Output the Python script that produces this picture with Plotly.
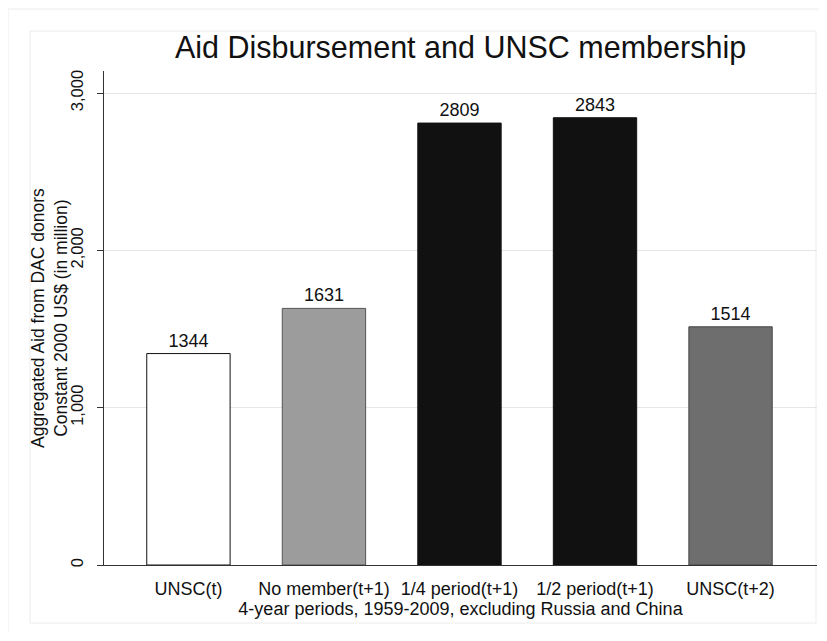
import plotly.graph_objects as go

categories = ["UNSC(t)", "No member(t+1)", "1/4 period(t+1)", "1/2 period(t+1)", "UNSC(t+2)"]
values = [1344, 1631, 2809, 2843, 1514]
bar_colors = ["#ffffff", "#9c9c9c", "#111111", "#111111", "#6e6e6e"]
line_colors = ["#111111", "#555555", "#111111", "#111111", "#444444"]
y_ticks = [0, 1000, 2000, 3000]
y_ticklabels = ["0", "1,000", "2,000", "3,000"]
title_text = "Aid Disbursement and UNSC membership"
x_title = "4-year periods, 1959-2009, excluding Russia and China"
y_title = "Aggregated Aid from DAC donors<br>Constant 2000 US$ (in million)"

OFF = 8  # browser body margin
W, H = 827 - 2 * OFF, 641 - 2 * OFF
L, R, T, B = 104 - OFF, 817 - OFF, 71 - OFF, 565 - OFF

def px(x):
    return (x - OFF - L) / (R - L)

def py(y):
    return (B - (y - OFF)) / (B - T)

FONT = "Liberation Sans, Arial"

fig = go.Figure()
fig.add_trace(go.Bar(
    x=list(range(len(categories))), y=values,
    marker=dict(color=bar_colors, line=dict(color=line_colors, width=1)),
    text=[str(v) for v in values], textposition="outside",
    textfont=dict(family=FONT, size=18, color="#111111"),
    cliponaxis=False,
    width=0.615,
))

fig.update_layout(
    width=W, height=H,
    margin=dict(l=L, r=W - R, t=T, b=H - B, pad=0),
    paper_bgcolor="white", plot_bgcolor="white",
    showlegend=False,
    font=dict(family=FONT, size=18, color="#111111"),
    title=dict(text=title_text,
               font=dict(size=30.5, color="#111111"),
               x=0.5, xref="paper", xanchor="center",
               y=1 - (47 - OFF) / H, yref="container", yanchor="middle"),
    xaxis=dict(
        tickmode="array", tickvals=list(range(len(categories))), ticktext=categories,
        range=[-0.623, 4.638], showgrid=False, zeroline=False,
        showline=True, linecolor="#333333", linewidth=1,
        ticks="", tickfont=dict(size=18), ticklabelstandoff=7,
        title=dict(text=x_title, font=dict(size=18), standoff=3),
    ),
    yaxis=dict(
        tickmode="array", tickvals=y_ticks, ticktext=y_ticklabels,
        range=[0, 3140], showgrid=True, gridcolor="#e6e6e6", gridwidth=1,
        zeroline=False, showline=True, linecolor="#333333", linewidth=1,
        ticks="outside", ticklen=6, tickcolor="#333333",
        tickangle=-90, tickfont=dict(size=16.5), ticklabelstandoff=7,
    ),
)

# y-axis title as a rotated annotation
fig.add_annotation(
    text=y_title, textangle=-90, showarrow=False,
    xref="paper", yref="paper", x=px(49), y=py(318),
    xanchor="center", yanchor="middle",
    font=dict(family=FONT, size=17.5, color="#111111"),
)

# outer and inner frames
fig.add_shape(type="rect", xref="paper", yref="paper",
              x0=px(8), x1=px(860), y0=py(9), y1=py(680),
              line=dict(color="#ececec", width=1), fillcolor="rgba(0,0,0,0)", layer="below")
fig.add_shape(type="rect", xref="paper", yref="paper",
              x0=px(30), x1=px(816), y0=py(31), y1=py(623),
              line=dict(color="#ececec", width=1), fillcolor="rgba(0,0,0,0)", layer="below")

fig.write_html("out.html")
